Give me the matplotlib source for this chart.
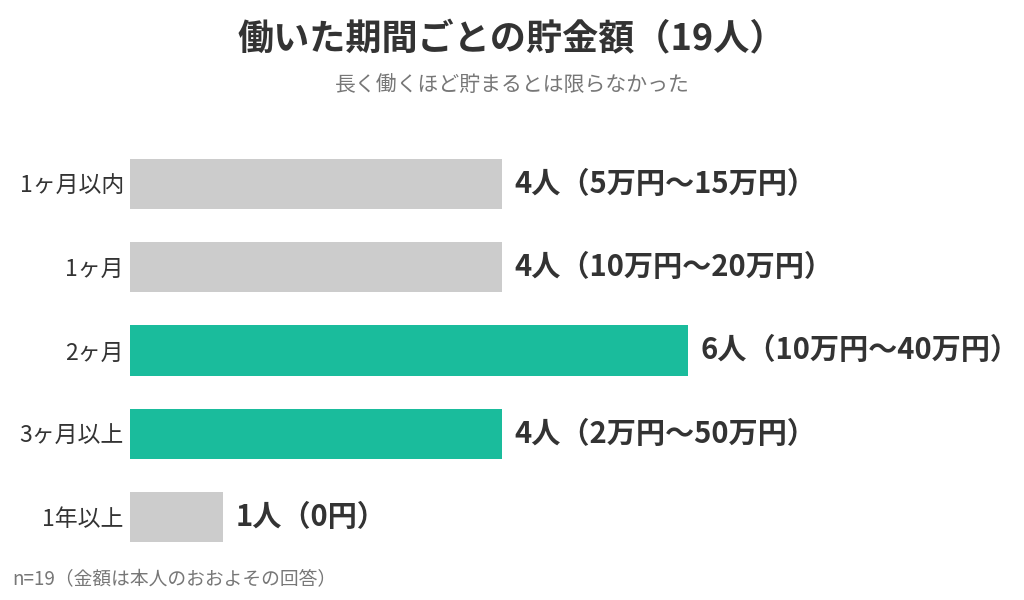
import matplotlib
matplotlib.use("Agg")
import matplotlib.pyplot as plt

plt.rcParams['font.family'] = ['Noto Sans CJK JP', 'DejaVu Sans']

categories = ["1ヶ月以内", "1ヶ月", "2ヶ月", "3ヶ月以上", "1年以上"]
counts = [4, 4, 6, 4, 1]
value_labels = ["4人（5万円〜15万円）", "4人（10万円〜20万円）", "6人（10万円〜40万円）",
                "4人（2万円〜50万円）", "1人（0円）"]
highlight = [False, False, True, True, False]

GRAY = "#cccccc"
TEAL = "#1abc9c"
DARK = "#333333"

W, H = 1024, 600
fig = plt.figure(figsize=(W / 100, H / 100), dpi=100)

left, right = 130, W
top, bottom = 142, 559
ax = fig.add_axes([left / W, 1 - bottom / H, (right - left) / W, (bottom - top) / H])

colors = [TEAL if h else GRAY for h in highlight]
ypos = list(range(len(categories)))
ax.barh(ypos, counts, height=0.6, color=colors)
ax.set_xlim(0, (right - left) / 93)
ax.set_ylim(len(categories) - 0.5, -0.5)

ax.set_yticks(ypos)
ax.set_yticklabels(categories, fontsize=16.5, color=DARK)
ax.tick_params(axis="y", length=0, pad=4.5)
ax.set_xticks([])
for s in ax.spines.values():
    s.set_visible(False)

for y, c, lab in zip(ypos, counts, value_labels):
    ax.annotate(lab, (c, y), xytext=(9, 0), textcoords="offset points",
                va="center", ha="left", fontsize=21, fontweight="bold", color=DARK)

fig.text(0.5, 1 - 40 / H, "働いた期間ごとの貯金額（19人）", ha="center", va="center",
         fontsize=26, fontweight="bold", color=DARK)
fig.text(0.5, 1 - 86 / H, "長く働くほど貯まるとは限らなかった", ha="center", va="center",
         fontsize=15, color="#777777")
fig.text(12 / W, 1 - 580 / H, "n=19（金額は本人のおおよその回答）", ha="left", va="center",
         fontsize=13.5, color="#777777")

fig.savefig("out.png", dpi=100)
